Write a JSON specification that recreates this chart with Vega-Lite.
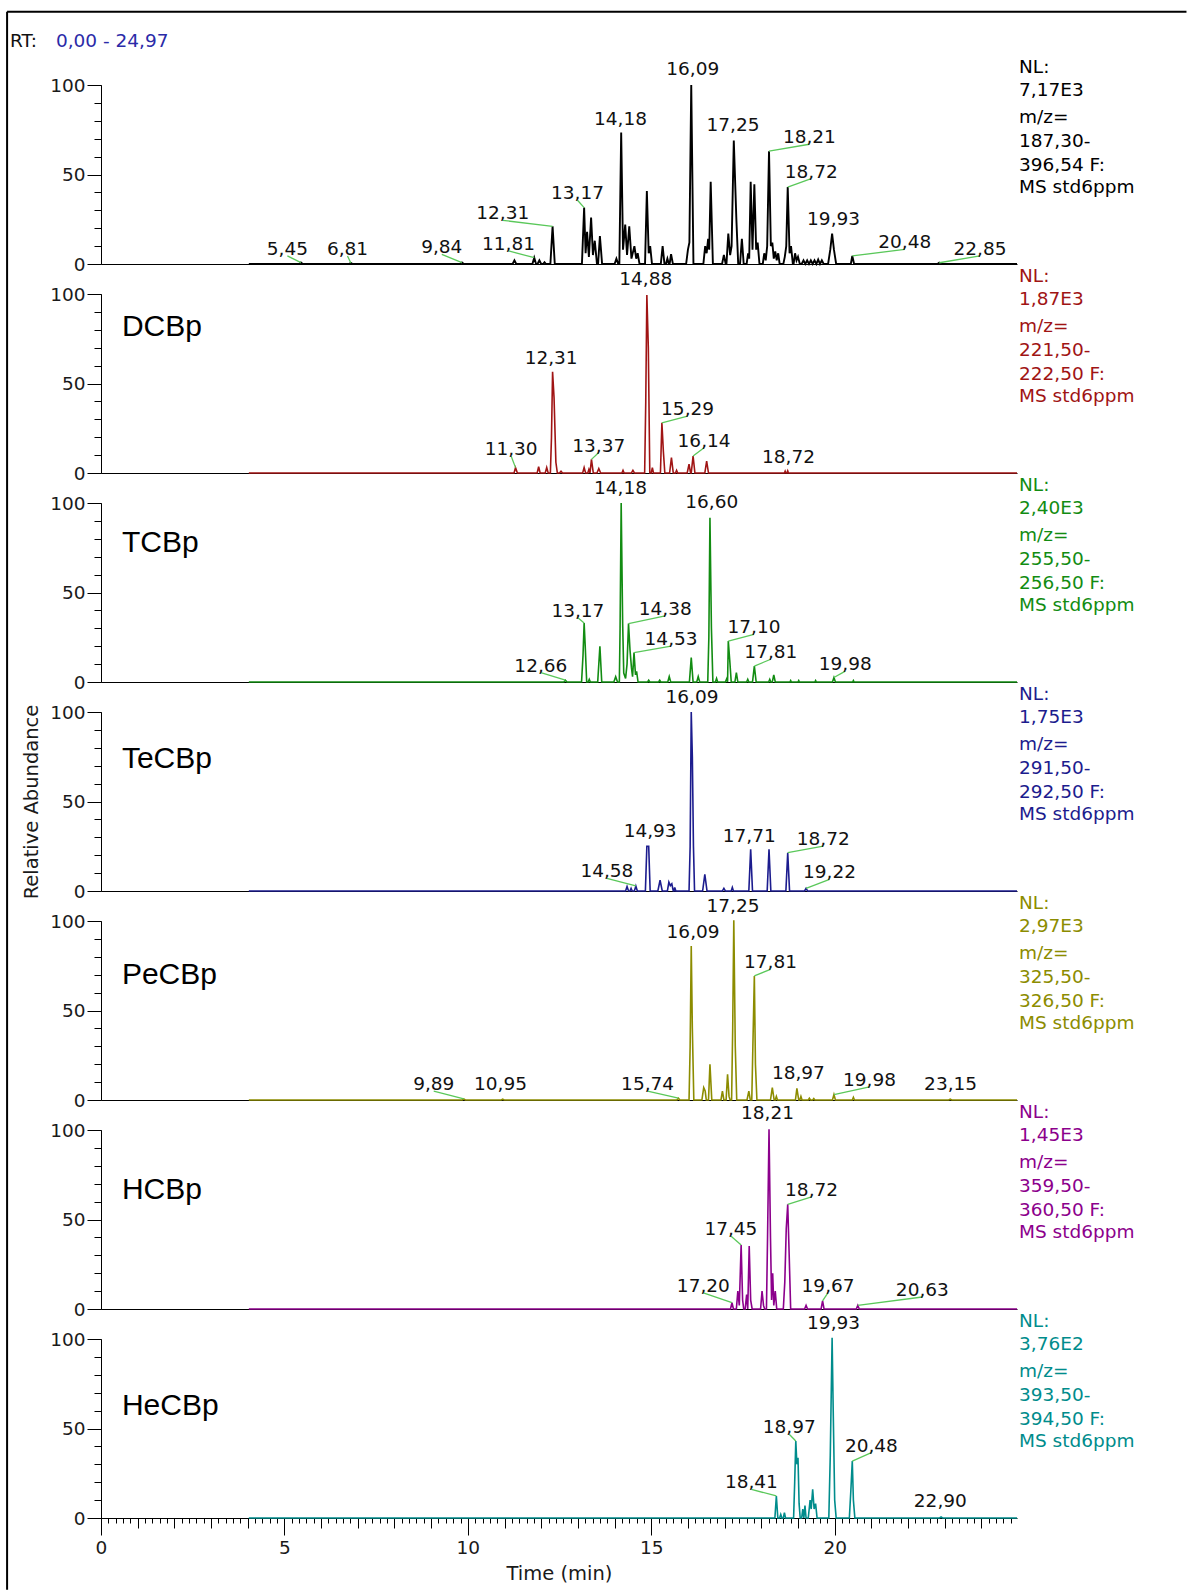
{
"$schema":"https://vega.github.io/schema/vega-lite/v6.json",
"padding":{"left":6,"top":10,"right":0,"bottom":0},
"background":"#ffffff",
"bounds":"flush",
"spacing":30,
"config":{"view":{"stroke":null},"axis":{"grid":false,"labelFont":"DejaVu Sans","labelFontSize":18.5,"labelColor":"#1a1a1a","tickColor":"#000000","domainColor":"#000000","tickWidth":1,"domainWidth":1,"titleFont":"DejaVu Sans","titleFontWeight":"normal","titleColor":"#1a1a1a","titleFontSize":19.5}},
"datasets":{
"p1":[{"t":4.03,"v":0},{"t":5.40,"v":0},{"t":5.45,"v":0.8},{"t":5.50,"v":0},{"t":6.76,"v":0},{"t":6.81,"v":0.6},{"t":6.86,"v":0},{"t":9.79,"v":0},{"t":9.84,"v":0.8},{"t":9.89,"v":0},{"t":11.22,"v":0},{"t":11.27,"v":2},{"t":11.32,"v":0},{"t":11.76,"v":0},{"t":11.81,"v":3.5},{"t":11.86,"v":0},{"t":11.90,"v":0},{"t":11.95,"v":2},{"t":12.00,"v":0},{"t":12.05,"v":0},{"t":12.09,"v":1},{"t":12.13,"v":0},{"t":12.25,"v":0},{"t":12.31,"v":21},{"t":12.37,"v":0},{"t":13.11,"v":0},{"t":13.17,"v":31.5},{"t":13.21,"v":6},{"t":13.25,"v":18},{"t":13.30,"v":4},{"t":13.36,"v":26},{"t":13.41,"v":5},{"t":13.46,"v":13},{"t":13.52,"v":0},{"t":13.55,"v":0},{"t":13.60,"v":15.6},{"t":13.66,"v":0},{"t":14.00,"v":0},{"t":14.05,"v":3},{"t":14.10,"v":0},{"t":14.13,"v":0},{"t":14.18,"v":73.5},{"t":14.23,"v":8},{"t":14.29,"v":22},{"t":14.34,"v":5},{"t":14.40,"v":21},{"t":14.46,"v":3},{"t":14.54,"v":10},{"t":14.59,"v":3},{"t":14.63,"v":6},{"t":14.68,"v":0},{"t":14.83,"v":0},{"t":14.88,"v":40.8},{"t":14.93,"v":6},{"t":14.97,"v":10},{"t":15.02,"v":0},{"t":15.26,"v":0},{"t":15.31,"v":10},{"t":15.36,"v":0},{"t":15.40,"v":0},{"t":15.44,"v":3},{"t":15.48,"v":0},{"t":15.50,"v":0},{"t":15.54,"v":5.5},{"t":15.59,"v":0},{"t":15.95,"v":0},{"t":16.00,"v":8},{"t":16.04,"v":12},{"t":16.09,"v":100},{"t":16.15,"v":0},{"t":16.42,"v":0},{"t":16.47,"v":10},{"t":16.51,"v":6},{"t":16.55,"v":14},{"t":16.58,"v":8},{"t":16.62,"v":46},{"t":16.68,"v":0},{"t":16.93,"v":0},{"t":16.98,"v":5},{"t":17.03,"v":0},{"t":17.05,"v":0},{"t":17.10,"v":17},{"t":17.15,"v":5},{"t":17.19,"v":10},{"t":17.25,"v":69},{"t":17.32,"v":25},{"t":17.37,"v":0},{"t":17.42,"v":0},{"t":17.47,"v":14},{"t":17.52,"v":0},{"t":17.60,"v":0},{"t":17.64,"v":6},{"t":17.67,"v":3},{"t":17.71,"v":46},{"t":17.76,"v":8},{"t":17.81,"v":44.5},{"t":17.86,"v":8},{"t":17.90,"v":12},{"t":17.95,"v":0},{"t":18.04,"v":0},{"t":18.08,"v":6},{"t":18.12,"v":2},{"t":18.16,"v":10},{"t":18.21,"v":63},{"t":18.26,"v":10},{"t":18.30,"v":12},{"t":18.34,"v":3},{"t":18.38,"v":7},{"t":18.42,"v":2},{"t":18.46,"v":6},{"t":18.50,"v":0},{"t":18.60,"v":0},{"t":18.64,"v":4},{"t":18.68,"v":10},{"t":18.72,"v":43},{"t":18.77,"v":6},{"t":18.81,"v":10},{"t":18.86,"v":0},{"t":18.88,"v":0},{"t":18.92,"v":6},{"t":18.96,"v":2},{"t":19.00,"v":4},{"t":19.05,"v":0},{"t":19.10,"v":0},{"t":19.15,"v":2},{"t":19.20,"v":0},{"t":19.25,"v":2},{"t":19.30,"v":0},{"t":19.35,"v":2},{"t":19.40,"v":0},{"t":19.45,"v":2},{"t":19.50,"v":0},{"t":19.55,"v":2.5},{"t":19.60,"v":0},{"t":19.65,"v":2},{"t":19.70,"v":0},{"t":19.82,"v":0},{"t":19.88,"v":8},{"t":19.93,"v":17},{"t":19.98,"v":8},{"t":20.04,"v":0},{"t":20.44,"v":0},{"t":20.48,"v":4.5},{"t":20.53,"v":0},{"t":22.80,"v":0},{"t":22.85,"v":0.7},{"t":22.90,"v":0},{"t":24.97,"v":0}],
"p2":[{"t":4.03,"v":0},{"t":11.26,"v":0},{"t":11.30,"v":3},{"t":11.35,"v":0},{"t":11.89,"v":0},{"t":11.93,"v":3.5},{"t":11.97,"v":0},{"t":12.11,"v":0},{"t":12.15,"v":3},{"t":12.19,"v":0},{"t":12.25,"v":0},{"t":12.28,"v":20},{"t":12.31,"v":56.6},{"t":12.35,"v":42},{"t":12.40,"v":6},{"t":12.44,"v":0},{"t":12.50,"v":0},{"t":12.54,"v":1},{"t":12.58,"v":0},{"t":13.13,"v":0},{"t":13.17,"v":3},{"t":13.21,"v":0},{"t":13.27,"v":0},{"t":13.30,"v":2},{"t":13.33,"v":0},{"t":13.37,"v":7.6},{"t":13.42,"v":0},{"t":13.52,"v":0},{"t":13.57,"v":2.5},{"t":13.62,"v":0},{"t":14.20,"v":0},{"t":14.23,"v":1.5},{"t":14.26,"v":0},{"t":14.46,"v":0},{"t":14.50,"v":1.5},{"t":14.54,"v":0},{"t":14.82,"v":0},{"t":14.85,"v":40},{"t":14.88,"v":99.4},{"t":14.92,"v":70},{"t":14.96,"v":0},{"t":15.00,"v":0},{"t":15.03,"v":3},{"t":15.06,"v":0},{"t":15.25,"v":0},{"t":15.29,"v":28},{"t":15.33,"v":12},{"t":15.37,"v":0},{"t":15.50,"v":0},{"t":15.55,"v":8.6},{"t":15.60,"v":0},{"t":15.66,"v":0},{"t":15.69,"v":1.5},{"t":15.72,"v":0},{"t":15.98,"v":0},{"t":16.03,"v":5},{"t":16.07,"v":0},{"t":16.09,"v":0},{"t":16.14,"v":9.5},{"t":16.19,"v":0},{"t":16.46,"v":0},{"t":16.51,"v":6.7},{"t":16.56,"v":0},{"t":18.63,"v":0},{"t":18.65,"v":1},{"t":18.67,"v":0},{"t":18.70,"v":0},{"t":18.72,"v":1.2},{"t":18.74,"v":0},{"t":24.97,"v":0}],
"p3":[{"t":4.03,"v":0},{"t":12.62,"v":0},{"t":12.66,"v":1},{"t":12.70,"v":0},{"t":13.10,"v":0},{"t":13.14,"v":15},{"t":13.17,"v":33},{"t":13.20,"v":20},{"t":13.24,"v":0},{"t":13.28,"v":0},{"t":13.31,"v":1.5},{"t":13.34,"v":0},{"t":13.54,"v":0},{"t":13.60,"v":20},{"t":13.65,"v":0},{"t":13.98,"v":0},{"t":14.03,"v":3},{"t":14.08,"v":0},{"t":14.13,"v":0},{"t":14.15,"v":30},{"t":14.18,"v":100},{"t":14.22,"v":33},{"t":14.25,"v":5},{"t":14.30,"v":2},{"t":14.34,"v":10},{"t":14.38,"v":32.6},{"t":14.42,"v":18},{"t":14.46,"v":8},{"t":14.49,"v":3},{"t":14.53,"v":16.4},{"t":14.57,"v":4},{"t":14.60,"v":6},{"t":14.64,"v":0},{"t":14.90,"v":0},{"t":14.93,"v":1},{"t":14.96,"v":0},{"t":15.20,"v":0},{"t":15.23,"v":1},{"t":15.26,"v":0},{"t":15.45,"v":0},{"t":15.49,"v":3},{"t":15.53,"v":0},{"t":16.04,"v":0},{"t":16.09,"v":13.6},{"t":16.14,"v":0},{"t":16.24,"v":0},{"t":16.28,"v":3},{"t":16.32,"v":0},{"t":16.54,"v":0},{"t":16.57,"v":25},{"t":16.60,"v":91.8},{"t":16.64,"v":30},{"t":16.68,"v":0},{"t":16.75,"v":0},{"t":16.78,"v":2},{"t":16.81,"v":0},{"t":17.02,"v":0},{"t":17.06,"v":2},{"t":17.08,"v":0},{"t":17.10,"v":22.9},{"t":17.14,"v":12},{"t":17.18,"v":0},{"t":17.28,"v":0},{"t":17.32,"v":5.2},{"t":17.36,"v":0},{"t":17.60,"v":0},{"t":17.63,"v":1.5},{"t":17.66,"v":0},{"t":17.76,"v":0},{"t":17.81,"v":8.9},{"t":17.86,"v":0},{"t":18.20,"v":0},{"t":18.23,"v":1.5},{"t":18.26,"v":0},{"t":18.30,"v":0},{"t":18.34,"v":4},{"t":18.38,"v":0},{"t":18.78,"v":0},{"t":18.80,"v":0.8},{"t":18.82,"v":0},{"t":19.00,"v":0},{"t":19.02,"v":0.8},{"t":19.04,"v":0},{"t":19.46,"v":0},{"t":19.48,"v":0.8},{"t":19.50,"v":0},{"t":19.94,"v":0},{"t":19.98,"v":2.5},{"t":20.02,"v":0},{"t":20.49,"v":0},{"t":20.51,"v":0.8},{"t":20.53,"v":0},{"t":24.97,"v":0}],
"p4":[{"t":4.03,"v":0},{"t":14.30,"v":0},{"t":14.34,"v":2.5},{"t":14.38,"v":0},{"t":14.42,"v":0},{"t":14.45,"v":1.5},{"t":14.48,"v":0},{"t":14.54,"v":0},{"t":14.58,"v":2.8},{"t":14.62,"v":0},{"t":14.84,"v":0},{"t":14.88,"v":25},{"t":14.93,"v":25},{"t":14.97,"v":0},{"t":15.18,"v":0},{"t":15.24,"v":6},{"t":15.30,"v":0},{"t":15.44,"v":0},{"t":15.48,"v":5},{"t":15.52,"v":3},{"t":15.56,"v":4},{"t":15.60,"v":0},{"t":15.62,"v":0},{"t":15.64,"v":2},{"t":15.67,"v":0},{"t":16.03,"v":0},{"t":16.06,"v":25},{"t":16.09,"v":100},{"t":16.12,"v":75},{"t":16.15,"v":25},{"t":16.18,"v":0},{"t":16.40,"v":0},{"t":16.46,"v":9.3},{"t":16.52,"v":0},{"t":16.94,"v":0},{"t":16.98,"v":1.5},{"t":17.02,"v":0},{"t":17.18,"v":0},{"t":17.21,"v":2},{"t":17.24,"v":0},{"t":17.66,"v":0},{"t":17.71,"v":23.3},{"t":17.76,"v":0},{"t":18.16,"v":0},{"t":18.21,"v":23.3},{"t":18.26,"v":0},{"t":18.67,"v":0},{"t":18.72,"v":21.4},{"t":18.77,"v":0},{"t":19.18,"v":0},{"t":19.22,"v":1.5},{"t":19.26,"v":0},{"t":24.97,"v":0}],
"p5":[{"t":4.03,"v":0},{"t":9.85,"v":0},{"t":9.89,"v":0.6},{"t":9.93,"v":0},{"t":10.91,"v":0},{"t":10.95,"v":0.5},{"t":10.99,"v":0},{"t":15.70,"v":0},{"t":15.74,"v":1},{"t":15.78,"v":0},{"t":16.03,"v":0},{"t":16.06,"v":30},{"t":16.09,"v":86},{"t":16.12,"v":40},{"t":16.16,"v":0},{"t":16.38,"v":0},{"t":16.43,"v":6.9},{"t":16.47,"v":5},{"t":16.50,"v":0},{"t":16.56,"v":0},{"t":16.60,"v":19.9},{"t":16.65,"v":0},{"t":16.90,"v":0},{"t":16.94,"v":5},{"t":16.98,"v":0},{"t":17.04,"v":0},{"t":17.08,"v":14.3},{"t":17.12,"v":2},{"t":17.15,"v":0},{"t":17.19,"v":0},{"t":17.22,"v":40},{"t":17.25,"v":100.4},{"t":17.29,"v":30},{"t":17.33,"v":0},{"t":17.61,"v":0},{"t":17.66,"v":5},{"t":17.70,"v":0},{"t":17.74,"v":0},{"t":17.77,"v":30},{"t":17.81,"v":69.3},{"t":17.84,"v":20},{"t":17.88,"v":0},{"t":18.25,"v":0},{"t":18.30,"v":6.9},{"t":18.35,"v":0},{"t":18.38,"v":0},{"t":18.41,"v":2},{"t":18.44,"v":0},{"t":18.93,"v":0},{"t":18.97,"v":6.5},{"t":19.02,"v":0},{"t":19.05,"v":0},{"t":19.08,"v":2},{"t":19.11,"v":0},{"t":19.28,"v":0},{"t":19.31,"v":1},{"t":19.34,"v":0},{"t":19.40,"v":0},{"t":19.43,"v":0.8},{"t":19.46,"v":0},{"t":19.94,"v":0},{"t":19.98,"v":3},{"t":20.02,"v":0},{"t":20.48,"v":0},{"t":20.51,"v":1.5},{"t":20.54,"v":0},{"t":23.11,"v":0},{"t":23.15,"v":0.5},{"t":23.19,"v":0},{"t":24.97,"v":0}],
"p6":[{"t":4.03,"v":0},{"t":17.16,"v":0},{"t":17.20,"v":3.5},{"t":17.24,"v":0},{"t":17.32,"v":0},{"t":17.36,"v":10},{"t":17.40,"v":2},{"t":17.45,"v":35.8},{"t":17.49,"v":5},{"t":17.52,"v":0},{"t":17.56,"v":0},{"t":17.60,"v":8},{"t":17.63,"v":0},{"t":17.67,"v":35.2},{"t":17.71,"v":5},{"t":17.75,"v":0},{"t":17.98,"v":0},{"t":18.02,"v":10},{"t":18.06,"v":2},{"t":18.09,"v":0},{"t":18.14,"v":0},{"t":18.17,"v":40},{"t":18.21,"v":100.4},{"t":18.25,"v":40},{"t":18.28,"v":5},{"t":18.31,"v":20},{"t":18.34,"v":2},{"t":18.38,"v":10},{"t":18.42,"v":0},{"t":18.60,"v":0},{"t":18.64,"v":15},{"t":18.68,"v":45},{"t":18.72,"v":58.5},{"t":18.76,"v":30},{"t":18.80,"v":0},{"t":19.18,"v":0},{"t":19.22,"v":2},{"t":19.26,"v":0},{"t":19.63,"v":0},{"t":19.67,"v":4.5},{"t":19.71,"v":0},{"t":20.59,"v":0},{"t":20.63,"v":2},{"t":20.67,"v":0},{"t":24.97,"v":0}],
"p7":[{"t":4.03,"v":0},{"t":18.37,"v":0},{"t":18.41,"v":12.3},{"t":18.45,"v":0},{"t":18.50,"v":0},{"t":18.53,"v":2},{"t":18.56,"v":0},{"t":18.60,"v":0},{"t":18.63,"v":3},{"t":18.66,"v":0},{"t":18.88,"v":0},{"t":18.91,"v":20},{"t":18.94,"v":43},{"t":18.97,"v":30},{"t":19.00,"v":33.7},{"t":19.03,"v":8},{"t":19.06,"v":0},{"t":19.10,"v":0},{"t":19.13,"v":5},{"t":19.16,"v":0},{"t":19.19,"v":7},{"t":19.22,"v":0},{"t":19.28,"v":0},{"t":19.33,"v":10},{"t":19.36,"v":5},{"t":19.40,"v":16},{"t":19.44,"v":5},{"t":19.48,"v":8},{"t":19.52,"v":0},{"t":19.84,"v":0},{"t":19.88,"v":35},{"t":19.93,"v":100.7},{"t":19.96,"v":60},{"t":20.00,"v":10},{"t":20.04,"v":0},{"t":20.40,"v":0},{"t":20.44,"v":15},{"t":20.48,"v":31.8},{"t":20.51,"v":10},{"t":20.55,"v":0},{"t":22.86,"v":0},{"t":22.90,"v":0.6},{"t":22.94,"v":0},{"t":24.97,"v":0}],
"l1":[{"s":"5,45","t":5.45,"h":0.8,"lx":5.08,"ly":4.5,"ld":1},{"s":"6,81","t":6.81,"h":0.6,"lx":6.72,"ly":4.5,"ld":1},{"s":"9,84","t":9.84,"h":0.8,"lx":9.29,"ly":5.4,"ld":1},{"s":"11,81","t":11.81,"h":3.5,"lx":11.11,"ly":7.3,"ld":1},{"s":"12,31","t":12.31,"h":21,"lx":10.95,"ly":24.4,"ld":1},{"s":"13,17","t":13.17,"h":31.5,"lx":12.99,"ly":35.6,"ld":1},{"s":"14,18","t":14.18,"h":73.5,"lx":14.16,"ly":77.1,"ld":0},{"s":"16,09","t":16.09,"h":100,"lx":16.13,"ly":105,"ld":0},{"s":"17,25","t":17.25,"h":69,"lx":17.23,"ly":73.6,"ld":0},{"s":"18,21","t":18.21,"h":63,"lx":19.31,"ly":66.9,"ld":1},{"s":"18,72","t":18.72,"h":43,"lx":19.36,"ly":47.7,"ld":1},{"s":"19,93","t":19.93,"h":17,"lx":19.97,"ly":21.2,"ld":0},{"s":"20,48","t":20.48,"h":4.5,"lx":21.91,"ly":8.2,"ld":1},{"s":"22,85","t":22.85,"h":0.7,"lx":23.96,"ly":4.5,"ld":1}],
"l2":[{"s":"11,30","t":11.30,"h":3,"lx":11.18,"ly":9.5,"ld":1},{"s":"12,31","t":12.31,"h":56.6,"lx":12.27,"ly":60.3,"ld":0},{"s":"13,37","t":13.37,"h":7.6,"lx":13.57,"ly":11.4,"ld":1},{"s":"14,88","t":14.88,"h":99.4,"lx":14.85,"ly":104.5,"ld":0},{"s":"15,29","t":15.29,"h":28,"lx":15.99,"ly":31.8,"ld":1},{"s":"16,14","t":16.14,"h":9.5,"lx":16.44,"ly":14.1,"ld":1},{"s":"18,72","t":18.72,"h":1.2,"lx":18.74,"ly":5,"ld":0}],
"l3":[{"s":"12,66","t":12.66,"h":1,"lx":11.99,"ly":5.2,"ld":1},{"s":"13,17","t":13.17,"h":33,"lx":13.0,"ly":35.9,"ld":1},{"s":"14,18","t":14.18,"h":100,"lx":14.16,"ly":104.5,"ld":0},{"s":"14,38","t":14.38,"h":32.6,"lx":15.38,"ly":36.9,"ld":1},{"s":"14,53","t":14.53,"h":16.4,"lx":15.54,"ly":20.1,"ld":1},{"s":"16,60","t":16.60,"h":91.8,"lx":16.65,"ly":96.5,"ld":0},{"s":"17,10","t":17.10,"h":22.9,"lx":17.80,"ly":26.6,"ld":1},{"s":"17,81","t":17.81,"h":8.9,"lx":18.26,"ly":12.7,"ld":1},{"s":"19,98","t":19.98,"h":2.5,"lx":20.29,"ly":6.1,"ld":1}],
"l4":[{"s":"14,58","t":14.58,"h":2.8,"lx":13.79,"ly":7.1,"ld":1},{"s":"14,93","t":14.93,"h":25,"lx":14.97,"ly":29.8,"ld":0},{"s":"16,09","t":16.09,"h":100,"lx":16.11,"ly":104.3,"ld":0},{"s":"17,71","t":17.71,"h":23.3,"lx":17.67,"ly":27,"ld":0},{"s":"18,72","t":18.72,"h":21.4,"lx":19.69,"ly":25.1,"ld":1},{"s":"19,22","t":19.22,"h":1.5,"lx":19.86,"ly":6.5,"ld":1}],
"l5":[{"s":"9,89","t":9.89,"h":0.6,"lx":9.07,"ly":5,"ld":1},{"s":"10,95","t":10.95,"h":0.5,"lx":10.89,"ly":5,"ld":0},{"s":"15,74","t":15.74,"h":1,"lx":14.90,"ly":5,"ld":1},{"s":"16,09","t":16.09,"h":86,"lx":16.14,"ly":90.1,"ld":0},{"s":"17,25","t":17.25,"h":100.4,"lx":17.23,"ly":104.6,"ld":0},{"s":"17,81","t":17.81,"h":69.3,"lx":18.25,"ly":73,"ld":1},{"s":"18,97","t":18.97,"h":6.5,"lx":19.01,"ly":11,"ld":0},{"s":"19,98","t":19.98,"h":3,"lx":20.95,"ly":7.3,"ld":1},{"s":"23,15","t":23.15,"h":0.5,"lx":23.16,"ly":5,"ld":0}],
"l6":[{"s":"17,20","t":17.20,"h":3.5,"lx":16.42,"ly":9,"ld":1},{"s":"17,45","t":17.45,"h":35.8,"lx":17.17,"ly":40.8,"ld":1},{"s":"18,21","t":18.21,"h":100.4,"lx":18.17,"ly":105.4,"ld":0},{"s":"18,72","t":18.72,"h":58.5,"lx":19.37,"ly":62.6,"ld":1},{"s":"19,67","t":19.67,"h":4.5,"lx":19.82,"ly":9.1,"ld":1},{"s":"20,63","t":20.63,"h":2,"lx":22.39,"ly":6.7,"ld":1}],
"l7":[{"s":"18,41","t":18.41,"h":12.3,"lx":17.73,"ly":16,"ld":1},{"s":"18,97","t":18.94,"h":43,"lx":18.76,"ly":46.8,"ld":1},{"s":"19,93","t":19.93,"h":100.7,"lx":19.97,"ly":104.9,"ld":0},{"s":"20,48","t":20.48,"h":31.8,"lx":21.0,"ly":36.5,"ld":1},{"s":"22,90","t":22.90,"h":0.6,"lx":22.88,"ly":5.8,"ld":0}],
"n1":[{"s":"NL:","y":110.2},{"s":"7,17E3","y":97.2},{"s":"m/z=","y":81.9},{"s":"187,30-","y":68.9},{"s":"396,54 F:","y":55.5},{"s":"MS std6ppm","y":42.8}],
"n2":[{"s":"NL:","y":110.2},{"s":"1,87E3","y":97.2},{"s":"m/z=","y":81.9},{"s":"221,50-","y":68.9},{"s":"222,50 F:","y":55.5},{"s":"MS std6ppm","y":42.8}],
"n3":[{"s":"NL:","y":110.2},{"s":"2,40E3","y":97.2},{"s":"m/z=","y":81.9},{"s":"255,50-","y":68.9},{"s":"256,50 F:","y":55.5},{"s":"MS std6ppm","y":42.8}],
"n4":[{"s":"NL:","y":110.2},{"s":"1,75E3","y":97.2},{"s":"m/z=","y":81.9},{"s":"291,50-","y":68.9},{"s":"292,50 F:","y":55.5},{"s":"MS std6ppm","y":42.8}],
"n5":[{"s":"NL:","y":110.2},{"s":"2,97E3","y":97.2},{"s":"m/z=","y":81.9},{"s":"325,50-","y":68.9},{"s":"326,50 F:","y":55.5},{"s":"MS std6ppm","y":42.8}],
"n6":[{"s":"NL:","y":110.2},{"s":"1,45E3","y":97.2},{"s":"m/z=","y":81.9},{"s":"359,50-","y":68.9},{"s":"360,50 F:","y":55.5},{"s":"MS std6ppm","y":42.8}],
"n7":[{"s":"NL:","y":110.2},{"s":"3,76E2","y":97.2},{"s":"m/z=","y":81.9},{"s":"393,50-","y":68.9},{"s":"394,50 F:","y":55.5},{"s":"MS std6ppm","y":42.8}]
},
"vconcat":[
{"width":916,"height":179,"layer":[
 {"data":{"name":"p1"},"mark":{"type":"line","color":"#000000","strokeWidth":1.9},"encoding":{"x":{"field":"t","type":"quantitative","scale":{"domain":[0,24.97],"nice":false,"zero":false},"axis":{"orient":"bottom","domain":true,"ticks":false,"labels":false,"title":null}},"y":{"field":"v","type":"quantitative","scale":{"domain":[0,100],"nice":false,"zero":false},"axis":{"orient":"left","values":[0,10,20,30,40,50,60,70,80,90,100],"tickSize":7,"labels":false,"domain":true,"title":null}}}},
 {"data":{"name":"l1"},"transform":[{"filter":"datum.ld == 1"}],"mark":{"type":"rule","color":"#5ac85a","strokeWidth":1.3},"encoding":{"x":{"field":"lx","type":"quantitative","scale":{"domain":[0,24.97],"nice":false,"zero":false},"axis":null},"y":{"field":"ly","type":"quantitative","scale":{"domain":[0,100],"nice":false,"zero":false},"axis":null},"x2":{"field":"t"},"y2":{"field":"h"}}},
 {"data":{"name":"l1"},"mark":{"type":"text","font":"DejaVu Sans","fontSize":18.5,"baseline":"alphabetic","align":"center","dy":-1,"color":"#111111"},"encoding":{"x":{"field":"lx","type":"quantitative","scale":{"domain":[0,24.97],"nice":false,"zero":false},"axis":null},"y":{"field":"ly","type":"quantitative","scale":{"domain":[0,100],"nice":false,"zero":false},"axis":{"orient":"left","values":[0,50,100],"tickSize":14,"labelPadding":2,"domain":false,"title":null}},"text":{"field":"s"}}},
 {"data":{"name":"n1"},"mark":{"type":"text","font":"DejaVu Sans","fontSize":18.5,"baseline":"middle","align":"left","dx":2,"color":"#000000"},"encoding":{"x":{"datum":24.97,"type":"quantitative","scale":{"domain":[0,24.97],"nice":false,"zero":false},"axis":null},"y":{"field":"y","type":"quantitative","scale":{"domain":[0,100],"nice":false,"zero":false},"axis":null},"text":{"field":"s"}}},
 {"data":{"values":[{"s":"RT:"}]},"mark":{"type":"text","font":"DejaVu Sans","fontSize":18.5,"baseline":"middle","align":"left","color":"#111111"},"encoding":{"x":{"datum":-2.48,"type":"quantitative","scale":{"domain":[0,24.97],"nice":false,"zero":false},"axis":null},"y":{"datum":124.7,"type":"quantitative","scale":{"domain":[0,100],"nice":false,"zero":false},"axis":null},"text":{"field":"s"}}},
 {"data":{"values":[{"s":"0,00 - 24,97"}]},"mark":{"type":"text","font":"DejaVu Sans","fontSize":18.5,"baseline":"middle","align":"left","color":"#2b2ba8"},"encoding":{"x":{"datum":-1.23,"type":"quantitative","scale":{"domain":[0,24.97],"nice":false,"zero":false},"axis":null},"y":{"datum":124.7,"type":"quantitative","scale":{"domain":[0,100],"nice":false,"zero":false},"axis":null},"text":{"field":"s"}}},
 {"data":{"values":[{}]},"mark":{"type":"rule","color":"#000000","strokeWidth":2},"encoding":{"x":{"datum":-2.56,"type":"quantitative","scale":{"domain":[0,24.97],"nice":false,"zero":false},"axis":null},"y":{"datum":140.9,"type":"quantitative","scale":{"domain":[0,100],"nice":false,"zero":false},"axis":null},"y2":{"datum":-740.6}}},
 {"data":{"values":[{}]},"mark":{"type":"rule","color":"#000000","strokeWidth":2},"encoding":{"x":{"datum":-2.56,"type":"quantitative","scale":{"domain":[0,24.97],"nice":false,"zero":false},"axis":null},"x2":{"datum":29.59},"y":{"datum":140.9,"type":"quantitative","scale":{"domain":[0,100],"nice":false,"zero":false},"axis":null}}}
],"resolve":{"axis":{"x":"independent","y":"independent"}}},
{"width":916,"height":179,"layer":[
 {"data":{"name":"p2"},"mark":{"type":"line","color":"#a01414","strokeWidth":1.6},"encoding":{"x":{"field":"t","type":"quantitative","scale":{"domain":[0,24.97],"nice":false,"zero":false},"axis":{"orient":"bottom","domain":true,"ticks":false,"labels":false,"title":null}},"y":{"field":"v","type":"quantitative","scale":{"domain":[0,100],"nice":false,"zero":false},"axis":{"orient":"left","values":[0,10,20,30,40,50,60,70,80,90,100],"tickSize":7,"labels":false,"domain":true,"title":null}}}},
 {"data":{"name":"l2"},"transform":[{"filter":"datum.ld == 1"}],"mark":{"type":"rule","color":"#5ac85a","strokeWidth":1.3},"encoding":{"x":{"field":"lx","type":"quantitative","scale":{"domain":[0,24.97],"nice":false,"zero":false},"axis":null},"y":{"field":"ly","type":"quantitative","scale":{"domain":[0,100],"nice":false,"zero":false},"axis":null},"x2":{"field":"t"},"y2":{"field":"h"}}},
 {"data":{"name":"l2"},"mark":{"type":"text","font":"DejaVu Sans","fontSize":18.5,"baseline":"alphabetic","align":"center","dy":-1,"color":"#111111"},"encoding":{"x":{"field":"lx","type":"quantitative","scale":{"domain":[0,24.97],"nice":false,"zero":false},"axis":null},"y":{"field":"ly","type":"quantitative","scale":{"domain":[0,100],"nice":false,"zero":false},"axis":{"orient":"left","values":[0,50,100],"tickSize":14,"labelPadding":2,"domain":false,"title":null}},"text":{"field":"s"}}},
 {"data":{"name":"n2"},"mark":{"type":"text","font":"DejaVu Sans","fontSize":18.5,"baseline":"middle","align":"left","dx":2,"color":"#a01414"},"encoding":{"x":{"datum":24.97,"type":"quantitative","scale":{"domain":[0,24.97],"nice":false,"zero":false},"axis":null},"y":{"field":"y","type":"quantitative","scale":{"domain":[0,100],"nice":false,"zero":false},"axis":null},"text":{"field":"s"}}},
 {"data":{"values":[{"s":"DCBp"}]},"mark":{"type":"text","font":"Liberation Sans","fontSize":30,"baseline":"middle","align":"left","color":"#000000"},"encoding":{"x":{"datum":0.57,"type":"quantitative","scale":{"domain":[0,24.97],"nice":false,"zero":false},"axis":null},"y":{"datum":81.3,"type":"quantitative","scale":{"domain":[0,100],"nice":false,"zero":false},"axis":null},"text":{"field":"s"}}}
],"resolve":{"axis":{"x":"independent","y":"independent"}}},
{"width":916,"height":179,"layer":[
 {"data":{"name":"p3"},"mark":{"type":"line","color":"#128c12","strokeWidth":1.6},"encoding":{"x":{"field":"t","type":"quantitative","scale":{"domain":[0,24.97],"nice":false,"zero":false},"axis":{"orient":"bottom","domain":true,"ticks":false,"labels":false,"title":null}},"y":{"field":"v","type":"quantitative","scale":{"domain":[0,100],"nice":false,"zero":false},"axis":{"orient":"left","values":[0,10,20,30,40,50,60,70,80,90,100],"tickSize":7,"labels":false,"domain":true,"title":null}}}},
 {"data":{"name":"l3"},"transform":[{"filter":"datum.ld == 1"}],"mark":{"type":"rule","color":"#5ac85a","strokeWidth":1.3},"encoding":{"x":{"field":"lx","type":"quantitative","scale":{"domain":[0,24.97],"nice":false,"zero":false},"axis":null},"y":{"field":"ly","type":"quantitative","scale":{"domain":[0,100],"nice":false,"zero":false},"axis":null},"x2":{"field":"t"},"y2":{"field":"h"}}},
 {"data":{"name":"l3"},"mark":{"type":"text","font":"DejaVu Sans","fontSize":18.5,"baseline":"alphabetic","align":"center","dy":-1,"color":"#111111"},"encoding":{"x":{"field":"lx","type":"quantitative","scale":{"domain":[0,24.97],"nice":false,"zero":false},"axis":null},"y":{"field":"ly","type":"quantitative","scale":{"domain":[0,100],"nice":false,"zero":false},"axis":{"orient":"left","values":[0,50,100],"tickSize":14,"labelPadding":2,"domain":false,"title":null}},"text":{"field":"s"}}},
 {"data":{"name":"n3"},"mark":{"type":"text","font":"DejaVu Sans","fontSize":18.5,"baseline":"middle","align":"left","dx":2,"color":"#128c12"},"encoding":{"x":{"datum":24.97,"type":"quantitative","scale":{"domain":[0,24.97],"nice":false,"zero":false},"axis":null},"y":{"field":"y","type":"quantitative","scale":{"domain":[0,100],"nice":false,"zero":false},"axis":null},"text":{"field":"s"}}},
 {"data":{"values":[{"s":"TCBp"}]},"mark":{"type":"text","font":"Liberation Sans","fontSize":30,"baseline":"middle","align":"left","color":"#000000"},"encoding":{"x":{"datum":0.57,"type":"quantitative","scale":{"domain":[0,24.97],"nice":false,"zero":false},"axis":null},"y":{"datum":77.9,"type":"quantitative","scale":{"domain":[0,100],"nice":false,"zero":false},"axis":null},"text":{"field":"s"}}}
],"resolve":{"axis":{"x":"independent","y":"independent"}}},
{"width":916,"height":179,"layer":[
 {"data":{"name":"p4"},"mark":{"type":"line","color":"#1c1c8e","strokeWidth":1.6},"encoding":{"x":{"field":"t","type":"quantitative","scale":{"domain":[0,24.97],"nice":false,"zero":false},"axis":{"orient":"bottom","domain":true,"ticks":false,"labels":false,"title":null}},"y":{"field":"v","type":"quantitative","scale":{"domain":[0,100],"nice":false,"zero":false},"axis":{"orient":"left","values":[0,10,20,30,40,50,60,70,80,90,100],"tickSize":7,"labels":false,"domain":true,"title":null}}}},
 {"data":{"name":"l4"},"transform":[{"filter":"datum.ld == 1"}],"mark":{"type":"rule","color":"#5ac85a","strokeWidth":1.3},"encoding":{"x":{"field":"lx","type":"quantitative","scale":{"domain":[0,24.97],"nice":false,"zero":false},"axis":null},"y":{"field":"ly","type":"quantitative","scale":{"domain":[0,100],"nice":false,"zero":false},"axis":null},"x2":{"field":"t"},"y2":{"field":"h"}}},
 {"data":{"name":"l4"},"mark":{"type":"text","font":"DejaVu Sans","fontSize":18.5,"baseline":"alphabetic","align":"center","dy":-1,"color":"#111111"},"encoding":{"x":{"field":"lx","type":"quantitative","scale":{"domain":[0,24.97],"nice":false,"zero":false},"axis":null},"y":{"field":"ly","type":"quantitative","scale":{"domain":[0,100],"nice":false,"zero":false},"axis":{"orient":"left","values":[0,50,100],"tickSize":14,"labelPadding":2,"domain":false,"title":"Relative Abundance","titlePadding":8}},"text":{"field":"s"}}},
 {"data":{"name":"n4"},"mark":{"type":"text","font":"DejaVu Sans","fontSize":18.5,"baseline":"middle","align":"left","dx":2,"color":"#1c1c8e"},"encoding":{"x":{"datum":24.97,"type":"quantitative","scale":{"domain":[0,24.97],"nice":false,"zero":false},"axis":null},"y":{"field":"y","type":"quantitative","scale":{"domain":[0,100],"nice":false,"zero":false},"axis":null},"text":{"field":"s"}}},
 {"data":{"values":[{"s":"TeCBp"}]},"mark":{"type":"text","font":"Liberation Sans","fontSize":30,"baseline":"middle","align":"left","color":"#000000"},"encoding":{"x":{"datum":0.57,"type":"quantitative","scale":{"domain":[0,24.97],"nice":false,"zero":false},"axis":null},"y":{"datum":73.9,"type":"quantitative","scale":{"domain":[0,100],"nice":false,"zero":false},"axis":null},"text":{"field":"s"}}}
],"resolve":{"axis":{"x":"independent","y":"independent"}}},
{"width":916,"height":179,"layer":[
 {"data":{"name":"p5"},"mark":{"type":"line","color":"#8c8c00","strokeWidth":1.6},"encoding":{"x":{"field":"t","type":"quantitative","scale":{"domain":[0,24.97],"nice":false,"zero":false},"axis":{"orient":"bottom","domain":true,"ticks":false,"labels":false,"title":null}},"y":{"field":"v","type":"quantitative","scale":{"domain":[0,100],"nice":false,"zero":false},"axis":{"orient":"left","values":[0,10,20,30,40,50,60,70,80,90,100],"tickSize":7,"labels":false,"domain":true,"title":null}}}},
 {"data":{"name":"l5"},"transform":[{"filter":"datum.ld == 1"}],"mark":{"type":"rule","color":"#5ac85a","strokeWidth":1.3},"encoding":{"x":{"field":"lx","type":"quantitative","scale":{"domain":[0,24.97],"nice":false,"zero":false},"axis":null},"y":{"field":"ly","type":"quantitative","scale":{"domain":[0,100],"nice":false,"zero":false},"axis":null},"x2":{"field":"t"},"y2":{"field":"h"}}},
 {"data":{"name":"l5"},"mark":{"type":"text","font":"DejaVu Sans","fontSize":18.5,"baseline":"alphabetic","align":"center","dy":-1,"color":"#111111"},"encoding":{"x":{"field":"lx","type":"quantitative","scale":{"domain":[0,24.97],"nice":false,"zero":false},"axis":null},"y":{"field":"ly","type":"quantitative","scale":{"domain":[0,100],"nice":false,"zero":false},"axis":{"orient":"left","values":[0,50,100],"tickSize":14,"labelPadding":2,"domain":false,"title":null}},"text":{"field":"s"}}},
 {"data":{"name":"n5"},"mark":{"type":"text","font":"DejaVu Sans","fontSize":18.5,"baseline":"middle","align":"left","dx":2,"color":"#8c8c00"},"encoding":{"x":{"datum":24.97,"type":"quantitative","scale":{"domain":[0,24.97],"nice":false,"zero":false},"axis":null},"y":{"field":"y","type":"quantitative","scale":{"domain":[0,100],"nice":false,"zero":false},"axis":null},"text":{"field":"s"}}},
 {"data":{"values":[{"s":"PeCBp"}]},"mark":{"type":"text","font":"Liberation Sans","fontSize":30,"baseline":"middle","align":"left","color":"#000000"},"encoding":{"x":{"datum":0.57,"type":"quantitative","scale":{"domain":[0,24.97],"nice":false,"zero":false},"axis":null},"y":{"datum":69.9,"type":"quantitative","scale":{"domain":[0,100],"nice":false,"zero":false},"axis":null},"text":{"field":"s"}}}
],"resolve":{"axis":{"x":"independent","y":"independent"}}},
{"width":916,"height":179,"layer":[
 {"data":{"name":"p6"},"mark":{"type":"line","color":"#8c008c","strokeWidth":1.6},"encoding":{"x":{"field":"t","type":"quantitative","scale":{"domain":[0,24.97],"nice":false,"zero":false},"axis":{"orient":"bottom","domain":true,"ticks":false,"labels":false,"title":null}},"y":{"field":"v","type":"quantitative","scale":{"domain":[0,100],"nice":false,"zero":false},"axis":{"orient":"left","values":[0,10,20,30,40,50,60,70,80,90,100],"tickSize":7,"labels":false,"domain":true,"title":null}}}},
 {"data":{"name":"l6"},"transform":[{"filter":"datum.ld == 1"}],"mark":{"type":"rule","color":"#5ac85a","strokeWidth":1.3},"encoding":{"x":{"field":"lx","type":"quantitative","scale":{"domain":[0,24.97],"nice":false,"zero":false},"axis":null},"y":{"field":"ly","type":"quantitative","scale":{"domain":[0,100],"nice":false,"zero":false},"axis":null},"x2":{"field":"t"},"y2":{"field":"h"}}},
 {"data":{"name":"l6"},"mark":{"type":"text","font":"DejaVu Sans","fontSize":18.5,"baseline":"alphabetic","align":"center","dy":-1,"color":"#111111"},"encoding":{"x":{"field":"lx","type":"quantitative","scale":{"domain":[0,24.97],"nice":false,"zero":false},"axis":null},"y":{"field":"ly","type":"quantitative","scale":{"domain":[0,100],"nice":false,"zero":false},"axis":{"orient":"left","values":[0,50,100],"tickSize":14,"labelPadding":2,"domain":false,"title":null}},"text":{"field":"s"}}},
 {"data":{"name":"n6"},"mark":{"type":"text","font":"DejaVu Sans","fontSize":18.5,"baseline":"middle","align":"left","dx":2,"color":"#8c008c"},"encoding":{"x":{"datum":24.97,"type":"quantitative","scale":{"domain":[0,24.97],"nice":false,"zero":false},"axis":null},"y":{"field":"y","type":"quantitative","scale":{"domain":[0,100],"nice":false,"zero":false},"axis":null},"text":{"field":"s"}}},
 {"data":{"values":[{"s":"HCBp"}]},"mark":{"type":"text","font":"Liberation Sans","fontSize":30,"baseline":"middle","align":"left","color":"#000000"},"encoding":{"x":{"datum":0.57,"type":"quantitative","scale":{"domain":[0,24.97],"nice":false,"zero":false},"axis":null},"y":{"datum":66.4,"type":"quantitative","scale":{"domain":[0,100],"nice":false,"zero":false},"axis":null},"text":{"field":"s"}}}
],"resolve":{"axis":{"x":"independent","y":"independent"}}},
{"width":916,"height":179,"layer":[
 {"data":{"name":"p7"},"mark":{"type":"line","color":"#008c8c","strokeWidth":1.6},"encoding":{"x":{"field":"t","type":"quantitative","scale":{"domain":[0,24.97],"nice":false,"zero":false},"axis":{"orient":"bottom","domain":true,"ticks":true,"tickCount":125,"tickSize":5,"labels":false,"title":null}},"y":{"field":"v","type":"quantitative","scale":{"domain":[0,100],"nice":false,"zero":false},"axis":{"orient":"left","values":[0,10,20,30,40,50,60,70,80,90,100],"tickSize":7,"labels":false,"domain":true,"title":null}}}},
 {"data":{"name":"l7"},"transform":[{"filter":"datum.ld == 1"}],"mark":{"type":"rule","color":"#5ac85a","strokeWidth":1.3},"encoding":{"x":{"field":"lx","type":"quantitative","scale":{"domain":[0,24.97],"nice":false,"zero":false},"axis":{"orient":"bottom","domain":false,"ticks":true,"tickCount":25,"tickSize":10,"labels":false,"title":null}},"y":{"field":"ly","type":"quantitative","scale":{"domain":[0,100],"nice":false,"zero":false},"axis":null},"x2":{"field":"t"},"y2":{"field":"h"}}},
 {"data":{"name":"l7"},"mark":{"type":"text","font":"DejaVu Sans","fontSize":18.5,"baseline":"alphabetic","align":"center","dy":-1,"color":"#111111"},"encoding":{"x":{"field":"lx","type":"quantitative","scale":{"domain":[0,24.97],"nice":false,"zero":false},"axis":{"orient":"bottom","domain":false,"values":[0,5,10,15,20],"tickSize":17,"labelPadding":3,"labelFlush":false,"title":"Time (min)","titlePadding":8}},"y":{"field":"ly","type":"quantitative","scale":{"domain":[0,100],"nice":false,"zero":false},"axis":{"orient":"left","values":[0,50,100],"tickSize":14,"labelPadding":2,"domain":false,"title":null}},"text":{"field":"s"}}},
 {"data":{"name":"n7"},"mark":{"type":"text","font":"DejaVu Sans","fontSize":18.5,"baseline":"middle","align":"left","dx":2,"color":"#008c8c"},"encoding":{"x":{"datum":24.97,"type":"quantitative","scale":{"domain":[0,24.97],"nice":false,"zero":false},"axis":null},"y":{"field":"y","type":"quantitative","scale":{"domain":[0,100],"nice":false,"zero":false},"axis":null},"text":{"field":"s"}}},
 {"data":{"values":[{"s":"HeCBp"}]},"mark":{"type":"text","font":"Liberation Sans","fontSize":30,"baseline":"middle","align":"left","color":"#000000"},"encoding":{"x":{"datum":0.57,"type":"quantitative","scale":{"domain":[0,24.97],"nice":false,"zero":false},"axis":null},"y":{"datum":62.4,"type":"quantitative","scale":{"domain":[0,100],"nice":false,"zero":false},"axis":null},"text":{"field":"s"}}}
],"resolve":{"axis":{"x":"independent","y":"independent"}}}
]
}
